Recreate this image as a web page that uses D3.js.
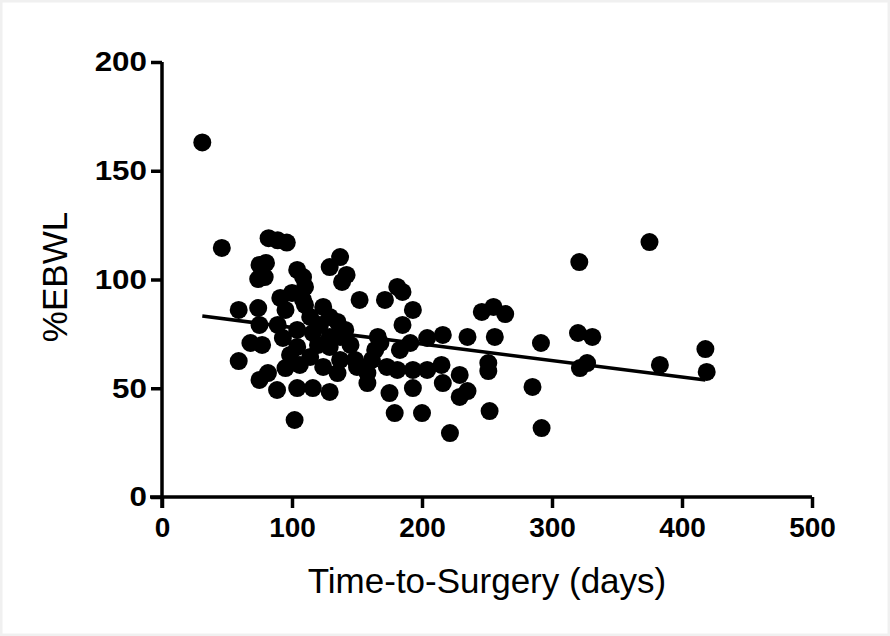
<!DOCTYPE html>
<html>
<head>
<meta charset="utf-8">
<script src="https://cdn.jsdelivr.net/npm/d3@7"></script>
<style>
html,body{margin:0;padding:0;background:#fff;}
svg{display:block;}
</style>
</head>
<body>
<svg id="chart" width="890" height="636"></svg>
<script>
// Time-to-surgery (days) for each patient
const days = [31,46,82,89,96,75,80,74,79,104,108.5,110,137,129,142,138.5,152,171.5,181,185,193,185,
  59,59,68,77,74,75,89,91,100,108.5,95,124,129,114,104,116,129,93,75,81.5,95,88.5,104,116,129,102,
  104,114,124,135,129,137,150,158,158,175,193,179,200,173,181,193,204,168,183,191,166,204,216,235,
  246,255,256,251,251,215,229,235,229,216,221.5,252,264,291.5,320,331,327,321.5,285,292,321,375,
  383,418,419,137,145,148.5,161.5,164,141,98.5,106,120,121.5,135,110];
// %EBWL for each patient
const ebwl = [163,114.5,119,118,117,106.7,107.6,100.2,101.1,104.4,101.1,96.6,110.3,105.7,102.1,98.9,90.6,90.6,96.6,94.3,86,79.1,
  86,62.5,70.8,69.9,86.9,79.1,79.1,91.5,93.8,90.6,86,87.4,82.8,82.8,76.8,75.4,73.6,73.1,53.8,57,59.3,49.2,50.1,50.1,48.3,35.4,
  69,64.4,59.8,57,69,63,59.8,57,52.4,47.8,50.1,38.6,38.6,59.8,58.4,58.4,58.4,70.8,67.6,70.8,73.6,73.1,74.5,73.6,
  85.1,87.4,73.6,61.6,57.9,60.7,56.1,48.7,46,52.4,29.4,39.5,84.1,70.8,75.4,73.6,61.6,59.3,50.6,31.7,108,117.2,
  60.7,68,57.5,73.6,69.9,63,63,67.6,76.8,65.3,60.7,69.9,79.1,80.5,88.3];
// Linear regression fit line end points
const fitDays = [31,418];
const fitEbwl = [83.2,53.8];
const xTicks = [0,100,200,300,400,500];
const yTicks = [0,50,100,150,200];

const svg = d3.select("#chart");
svg.append("rect").attr("x",1).attr("y",1).attr("width",888).attr("height",634)
  .attr("fill","#fff").attr("stroke","#f0f0f0").attr("stroke-width",3);

const x = d3.scaleLinear().domain([0,500]).range([162,812]);
const y = d3.scaleLinear().domain([0,200]).range([497,62]);

const font = "'Liberation Sans', Arial, sans-serif";

// points
const pts = days.map((d,i)=>({x:d,y:ebwl[i]}));
svg.append("g").selectAll("circle").data(pts).join("circle")
  .attr("cx",d=>x(d.x)).attr("cy",d=>y(d.y)).attr("r",9).attr("fill","#000");

// fit line
svg.append("path").datum(fitDays.map((d,i)=>[d,fitEbwl[i]]))
  .attr("d",d3.line().x(d=>x(d[0])).y(d=>y(d[1])))
  .attr("stroke","#000").attr("stroke-width",3.5).attr("fill","none");

// axes
const xAxis = svg.append("g").attr("transform","translate(0,497)")
  .call(d3.axisBottom(x).tickValues(xTicks).tickSize(11).tickSizeOuter(0).tickPadding(9));
const yAxis = svg.append("g").attr("transform","translate(162,0)")
  .call(d3.axisLeft(y).tickValues(yTicks).tickSize(11).tickSizeOuter(0).tickPadding(4));
[xAxis,yAxis].forEach(g=>{
  g.select(".domain").attr("stroke","#000").attr("stroke-width",3.5);
  g.selectAll(".tick line").attr("stroke","#000").attr("stroke-width",3.5);
  g.selectAll(".tick text").attr("fill","#000").attr("font-family",font)
    .attr("font-weight","bold").attr("font-size",28);
});
// y tick labels in the reference are slightly wider
yAxis.selectAll(".tick text").each(function(){
  const t = d3.select(this);
  const ty = t.attr("y")||0;
  t.attr("transform","translate(-15,0) scale(1.12,1)").attr("x",-15/1.12*0+(-(4+11))/1.12+15/1.12);
});
xAxis.select(".domain").attr("d","M150,0H812");
yAxis.select(".domain").attr("d","M0,62V508");

// titles
svg.append("text").attr("x",487).attr("y",593).attr("text-anchor","middle")
  .attr("font-family",font).attr("font-size",35).attr("fill","#000")
  .text("Time-to-Surgery (days)");
svg.append("text").attr("transform","translate(67,277) rotate(-90)").attr("text-anchor","middle")
  .attr("font-family",font).attr("font-size",35).attr("fill","#000")
  .text("%EBWL");
</script>
</body>
</html>
